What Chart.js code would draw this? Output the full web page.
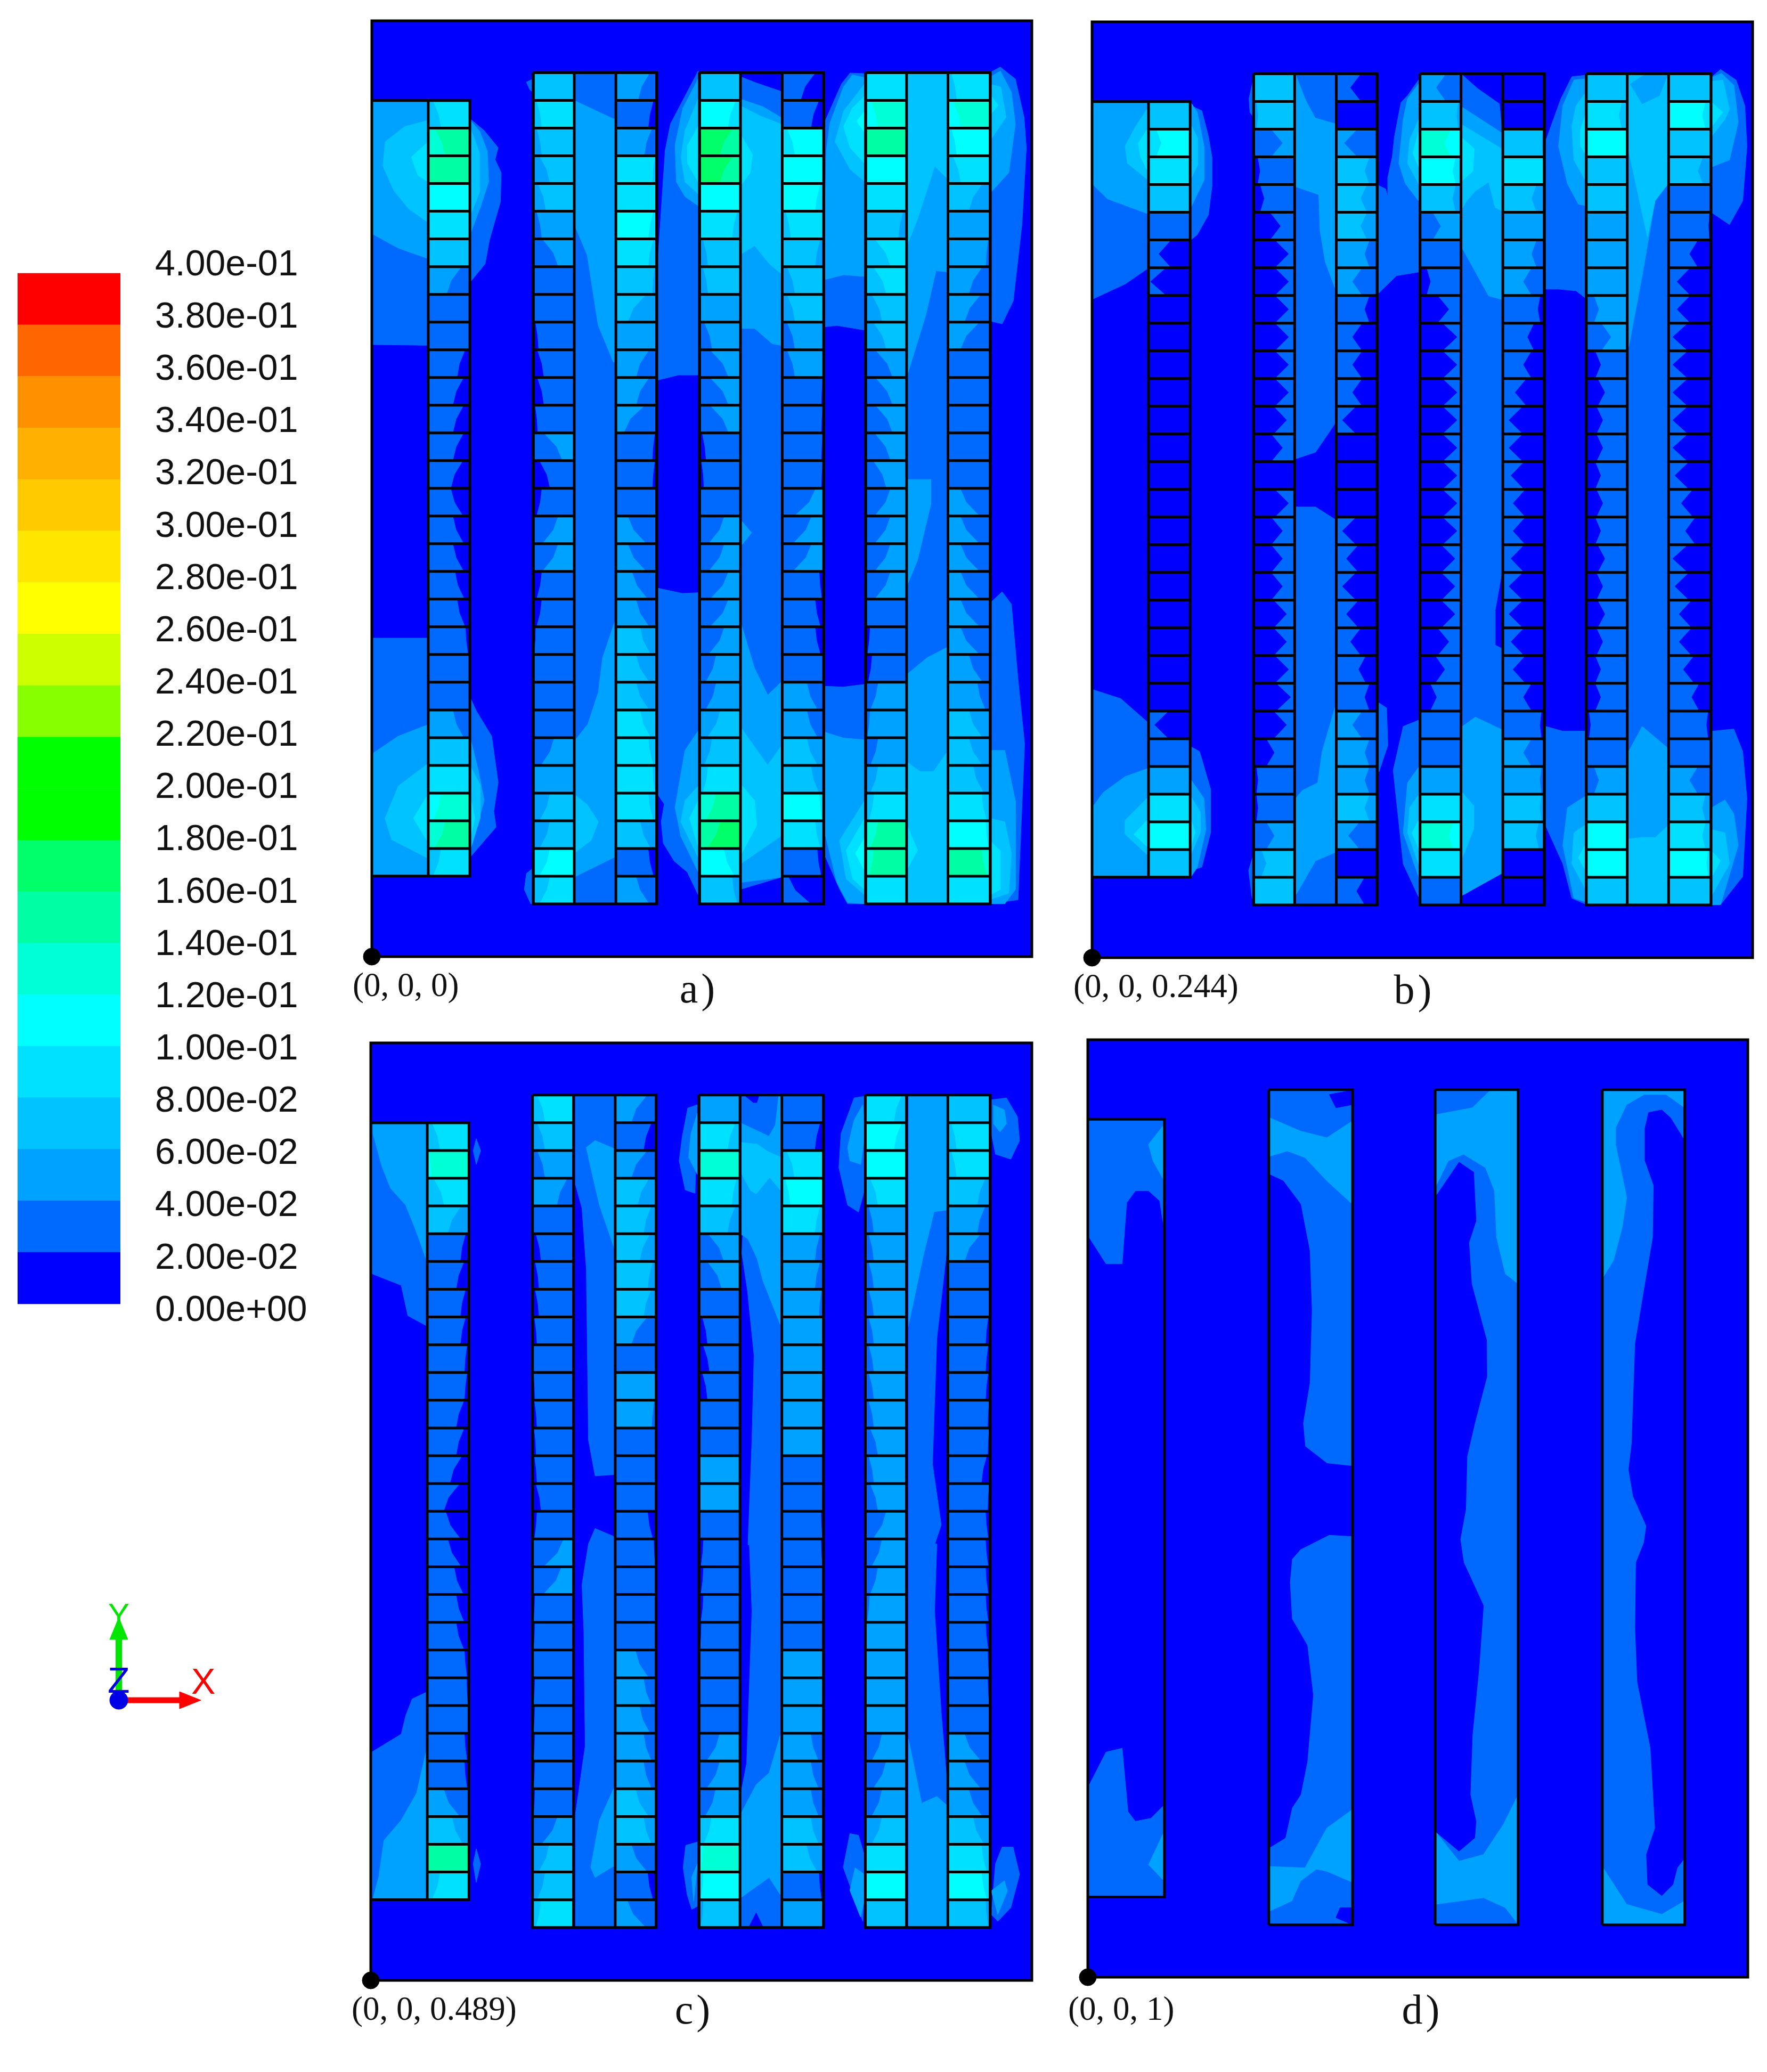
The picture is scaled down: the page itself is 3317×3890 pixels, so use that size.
<!DOCTYPE html>
<html>
<head>
<meta charset="utf-8">
<title>Contours</title>
<script src="https://cdn.jsdelivr.net/npm/chart.js@4/dist/chart.umd.js"></script>
<style>
html, body { margin: 0; background: #fff; }
#page { position: relative; width: 3317px; height: 3890px; overflow: hidden; }
canvas { position: absolute; }
.cap { position: absolute; font-family: "Liberation Serif", serif; color: #111; line-height: 1; white-space: nowrap; transform: translateY(-50%); }
.tag { font-size: 78px; transform: translate(-50%, -50%); letter-spacing: 6px; }
.tri { position: absolute; font-family: "Liberation Sans", sans-serif; line-height: 1; }
</style>
</head>
<body>
<div id="page"></div>
<script>
// contour bands, bottom to top of the colour bar
const bandColors = ['#0000ff', '#006aff', '#00a2ff', '#00c3ff', '#00e1ff', '#00ffff', '#00ffd5', '#00ffa5', '#00ff68', '#00ff00',
    '#00ff00', '#88ff00', '#ccff00', '#ffff00', '#ffe600', '#ffcb00', '#ffb000', '#ff9100', '#ff6600', '#ff0000'];
const bandStep = 0.02;

// geometry of a slice, in plot units
const cellColumns = [[42.7, 74.2], [122.2, 153.2], [184.7, 215.6], [248, 279], [310.6, 342], [373.7, 404.7], [436, 468]];
const channelEdges = [[122.2, 215.6], [248, 342], [373.7, 468]];
const rowTop = 668.7, rowHeight = 20.96, rowCount = 30;
const inletTop = 647.7, inletBottom = 60.9;

// slice a): band of each cell, top row first, and the darker wedge (share of width, minus = left side)
const aInlet = [4,7,7,5,4,3,2,1,1,1,1,1,1,1,1,1,1,1,1,1,1,1,2,3,4,6,7,4];
const aInletW = [-.3,-.4,0,0,0,0,.55,0,0,.3,.4,.4,.4,.45,.45,.4,.4,.35,.3,.1,0,0,.4,0,0,-.3,-.4,-.3];
const aC1L = [3,4,3,3,3,2,2,1,1,1,1,1,1,2,1,1,2,2,1,1,1,1,1,1,2,2,3,3,5,4];
const aC1LW = [0,-.2,-.2,-.4,-.3,-.2,-.6,0,0,-.12,-.25,-.25,-.1,-.7,-.4,-.2,-.6,-.6,-.2,-.2,-.05,0,0,0,-.5,0,-.4,-.4,-.4,-.4];
const aC1R = [2,1,2,4,4,5,4,3,3,2,2,2,2,1,1,1,2,2,2,2,3,3,3,4,4,4,4,3,1,2];
const aC1RW = [.45,.2,.3,.1,0,.2,.2,.1,.7,0,.5,.5,.8,.1,.1,0,.7,.7,.6,.5,.4,.5,.5,.4,.2,.1,.2,.4,.2,.5];
const aC2L = [3,5,8,8,5,4,3,3,2,2,2,2,2,1,1,1,2,2,2,2,2,2,2,3,3,4,7,8,5,3];
const aC2LW = [0,.3,.5,.5,0,.2,-.2,-.2,0,-.3,-.7,-.7,-.7,-.15,-.1,0,-.6,-.6,-.7,-.7,-.6,-.4,-.4,-.5,-.3,-.2,-.4,-.5,.4,.2];
const aC2R = [1,1,5,5,5,4,3,3,3,2,2,1,1,1,1,2,2,2,1,1,1,1,2,2,3,3,5,4,1,1];
const aC2RW = [.55,.3,-.3,0,.2,-.2,.2,-.3,-.3,-.3,-.3,.05,.05,.05,.05,-.8,-.7,-.7,.1,.2,.2,0,.4,.4,.4,.3,.1,.2,.15,.85];
const aC3L = [4,6,7,5,4,3,4,4,3,3,2,2,2,2,2,2,2,2,2,1,1,1,2,2,2,3,4,7,7,4];
const aC3LW = [0,-.3,0,0,0,.2,-.6,-.5,-.4,-.5,-.65,-.65,-.65,-.6,-.5,-.6,-.6,-.6,-.6,0,-.1,-.15,-.3,-.1,-.3,-.3,-.2,-.3,-.2,0];
const aC3R = [4,6,5,4,3,2,2,2,2,2,1,1,1,1,1,2,2,2,2,2,2,2,2,3,3,3,4,5,7,4];
const aC3RW = [-.2,-.3,-.2,-.3,.5,0,.1,.5,.6,.7,0,0,0,0,0,.7,.7,.7,.7,.7,.7,.5,.3,.5,.5,.4,.2,.1,.2,0];

// slice b)
const bInlet = [3,5,4,3,1,1,1,0,0,0,0,0,0,0,0,0,0,0,0,0,0,0,1,1,2,4,5,3];
const bInletW = [0,-.3,0,0,0,.75,.95,0,0,0,0,0,0,0,0,0,0,0,0,0,0,0,.85,0,0,0,0,0];
const bC1L = [3,3,2,1,1,1,1,1,1,1,1,1,1,1,0,1,1,1,1,1,1,1,1,1,1,1,1,2,3,3];
const bC1LW = [0,-.1,-.7,-.15,-.25,-.65,-.85,-.85,-.85,-.85,-.85,-.85,-.8,-.7,0,-.85,-.7,-.7,-.7,-.8,-.8,-.85,-.9,-.8,-.5,-.1,-.1,-.5,-.3,0];
const bC1R = [1,0,2,3,3,3,2,2,1,1,1,1,1,0,0,0,1,1,1,1,1,1,1,2,2,2,3,2,0,1];
const bC1RW = [.65,0,.8,.3,.4,.4,.3,.6,.3,.6,.6,.6,.85,0,0,0,.85,.75,.85,.75,.65,.45,.3,.6,.3,.3,.3,.7,0,.5];
const bC2L = [2,3,6,5,3,2,1,1,1,1,1,1,1,1,1,1,1,1,1,1,1,1,1,1,1,2,4,6,4,1];
const bC2LW = [.6,.1,.4,.2,.2,-.5,0,-.25,-.7,-.9,-.9,-.9,-.9,-.9,-.9,-.9,-.9,-.85,-.85,-.85,-.7,-.6,-.4,0,0,0,0,.3,0,0];
const bC2R = [0,0,3,4,3,2,2,2,1,1,1,1,1,1,1,1,1,1,1,1,1,1,1,1,2,2,3,3,0,0];
const bC2RW = [0,0,.05,0,.3,0,.3,.5,.15,.4,.5,.7,.85,.85,.8,.75,.75,.8,.85,.85,.8,.75,.5,.1,.5,.1,.1,.2,0,0];
const bC3L = [3,4,5,3,3,2,2,2,2,2,1,1,1,1,1,1,1,1,1,1,1,1,1,1,1,2,3,5,5,3];
const bC3LW = [0,.2,0,0,0,0,0,0,-.3,-.6,-.35,-.45,-.4,-.4,-.35,-.4,-.35,-.45,-.4,-.45,-.4,-.35,-.35,-.1,0,-.3,0,0,0,0];
const bC3R = [3,5,3,3,1,1,1,1,1,1,1,1,1,1,1,1,1,1,1,1,1,1,1,1,1,2,3,4,5,3];
const bC3RW = [0,.2,0,.3,0,.05,.5,.8,.8,.9,.9,.9,.9,.9,.85,.7,.6,.9,.85,.75,.75,.65,.45,.1,0,.5,.2,.2,.1,0];

// slice c)
const cInlet = [4,6,4,3,1,1,1,1,1,1,1,1,1,1,1,1,1,1,1,1,1,1,1,1,2,3,7,4];
const cInletW = [-.3,-.1,-.4,.5,.2,.3,.2,.2,.1,.1,.3,.3,.45,.6,.55,.5,.35,.3,.3,.1,.05,0,.1,.1,.6,.4,0,-.3];
const cC1L = [4,3,2,2,1,1,1,1,1,1,1,1,1,1,1,1,2,2,1,1,1,1,1,1,1,1,2,3,3,4];
const cC1LW = [-.3,-.3,-.3,.4,0,-.2,-.15,-.15,-.1,0,-.05,-.1,-.08,-.1,-.2,-.1,-.75,-.7,-.05,-.05,0,-.05,-.05,-.05,-.05,-.05,-.6,-.4,-.3,-.2];
const cC1R = [2,1,2,3,3,3,3,3,2,1,2,2,1,1,1,1,1,1,1,1,2,2,2,2,2,3,3,2,1,2];
const cC1RW = [.6,.3,.6,.45,.3,.4,.2,.3,.6,0,0,.1,0,0,0,.2,.05,0,0,0,.5,.3,.4,.3,.3,.5,.3,.6,.2,.7];
const cC2L = [2,4,6,4,3,2,2,1,1,1,1,1,1,2,2,1,1,1,1,1,1,1,1,2,2,2,4,6,5,3];
const cC2LW = [0,.3,0,.2,.3,-.6,-.55,0,-.2,-.25,-.2,0,0,0,0,0,-.1,-.1,-.1,-.05,0,0,0,-.5,-.5,-.4,-.3,-.1,-.1,-.1];
const cC2R = [1,1,4,5,4,2,2,2,2,2,2,2,2,1,1,1,1,1,1,1,2,2,2,2,2,2,3,3,1,2];
const cC2RW = [0,.2,-.3,-.2,.2,.2,.2,.1,0,0,0,0,0,0,0,.05,.05,0,0,0,0,0,0,.3,.3,.3,.3,.4,.1,0];
const cC3L = [4,5,5,4,2,2,2,2,2,2,2,2,2,2,2,2,2,2,2,2,2,2,2,2,2,2,3,4,5,3];
const cC3LW = [.3,.3,0,-.3,-.2,-.2,-.2,-.2,-.2,-.2,-.2,-.2,-.3,-.2,-.3,-.5,-.4,-.3,-.1,0,0,0,0,-.4,-.5,-.4,-.4,0,0,0];
const cC3R = [3,4,4,3,2,2,1,1,1,1,1,1,1,1,1,1,1,1,1,1,1,1,1,2,2,2,3,4,5,3];
const cC3RW = [0,-.2,-.2,.3,.3,.6,0,0,.1,.1,.1,.05,.05,.2,.05,.1,.1,.1,.1,.1,.05,.05,0,.6,.6,.5,.4,.2,.2,.1];

// contour patches in the open fluid: [band, [x, y, x, y, ...]], painted in this order
const aFluid = [
    [1,[0,647.7,74.2,647.7,74.2,634,85,625,95.6,612,93.3,603,97.9,593,97.3,571,89,542,85.7,524,74.2,510,42.7,510,42.7,462.5,0,463]],
    [2,[0,647.7,74.2,647.7,74.2,633,81.5,624.6,87.4,609.5,88.4,586.4,82.5,567.9,74.2,545.9,41.3,528.5,20,536,0,547]],
    [3,[42.7,632.7,24.9,628,10.1,616.5,8.4,598,16.7,579.4,28.2,565.5,41.3,556.3,74.2,560,81.5,578,81.5,608,74.2,628]],
    [4,[42.7,616.5,30,605,34.8,591,42.7,586,74.2,586,74.2,616]],
    [1,[0,241,42.7,241,42.7,197,74.2,196.5,79.2,185.7,90.7,166.8,95.6,131.7,92.3,110,94,98,74.2,75,74.2,60.9,0,60.9]],
    [2,[0,153.3,20,166.8,41.3,175,74.2,166.8,80.8,140,85,118.2,74.2,79,74.2,60.9,0,60.9]],
    [3,[41.3,145.2,20,129,10,104.7,15,88.5,41.3,75,74.2,80,82,105,82,130,74.2,145]],
    [4,[41.3,120.9,31.5,104.7,41.3,88.5,74.2,88,78,105,74.2,122]],
    [1,[122,664,117,661.6,119.6,655.8,122,654]],
    [1,[122,67,117,62.9,115.4,50.7,120.3,40,122,40]],
    [1,[153.2,668.7,184.7,668.7,184.7,39.9,153.2,39.9]],
    [2,[153.2,647.7,182.8,633.8,184.7,634,184.7,449.8,182.8,449.8,171.3,477.6,163,530.8,153.2,554]],
    [2,[184.7,256,174.6,226,171.4,200,163.4,175.7,153.2,163,153.2,60.2,184.7,75.8]],
    [3,[153.2,122.7,163,115,171.4,102,166,88,153.2,78.3]],
    [1,[247,670,237,651,226,630,222,610,215.7,515,215.7,436,232,440,247,440]],
    [2,[247,664,235.4,642,229.5,614,230.5,586,237,575,247,568]],
    [3,[247,649,237,625,234,605,237,586,247,577]],
    [4,[247,628,239,614,239,600,247,586]],
    [1,[247,275.3,235,274.8,215.7,278.9,215.7,123.6,221.3,115.5,219,102,220.6,85.8,228.8,72.3,238.7,64,247,46.7]],
    [2,[247,170.9,237,156,229.5,112.8,233.8,91.2,247,64]],
    [3,[247,129,237,118.2,233.8,102,247,75]],
    [4,[247,118.2,240.4,104.7,247,83]],
    [1,[278.2,666,291,661,309.4,654.7,309.4,60,278.2,50.7]],
    [2,[278.2,649,296,643,309.4,635,309.4,462.5,303,463.7,289.7,475.3,278.2,475.3]],
    [3,[278.2,644,294,636,309.4,630,309.4,517,301,523.9,289.7,537.8,278.2,530.8]],
    [4,[278.2,623.4,288,607,286.4,593.3,278.2,581.7]],
    [2,[278.2,331.5,287.4,320.7,279.8,311.2]],
    [2,[278.2,255.9,289.7,218,299.6,197.9,309.4,207.3,309.4,60,278.2,56]],
    [3,[278.2,175,289.7,158.7,299.6,145,309.4,158.7,309.4,91,278.2,69.6]],
    [4,[278.2,131.7,289.7,118,291.3,99.3,278.2,75]],
    [1,[373,668,362,668.5,355.5,660.4,343.3,632.7,342,476.4,352,477.5,373,474]],
    [2,[373,665,363.7,667,357,658,346.6,630.4,344,610,342,512,357,515.8,373,514.6]],
    [3,[373,660.4,357,639.6,350.6,616.5,362,595.6,373,586.4]],
    [4,[373,651,363.7,642,357,628,362,611.8,373,600]],
    [5,[373,639.6,367,632,373,623.4]],
    [1,[404,668.7,435.4,668.7,435.4,39.9,404,39.9]],
    [2,[404,668.7,435.4,668.7,435.4,518,427,519,419,484.5,404,436]],
    [3,[404,668.7,435.4,668.7,435.4,588.7,426,598,413,558,404,535.5]],
    [2,[404,361,423,361,423,342,413,300,404,278]],
    [2,[404,212.7,420,226,435.4,234,435.4,39.9,404,39.9]],
    [3,[404,148,415,140,425,140,435.4,154.7,435.4,39.9,404,39.9]],
    [4,[404,102,413,80.4,404,64]],
    [1,[342,204.6,357,204,373,206,373,40,360,40,354,51,342.3,77.7]],
    [2,[342,170,357,165.4,373,164,373,40,360,41,352,56,342,97]],
    [3,[373,118,354,88,359,58.8,373,46.6]],
    [4,[373,104.7,359,80.4,364,58.8,373,50.7]],
    [5,[373,90,366,78,373,65]],
    [1,[467.3,668.5,475.6,673,487,664,493.6,635,495.3,612,492,554,485.4,496,477,478.7,467.3,481]],
    [2,[467.3,665,475.6,670,484,654,487,630,482,593,467.3,577]],
    [3,[467.3,660,476,658,480,635,467.3,616.5]],
    [4,[467.3,653,474,644,467.3,636]],
    [1,[467.3,267,477,276,484,266.7,489,210,494,161,489,43,467.3,40]],
    [2,[467.3,156,479,156,487,118,487,50.7,479,40,467.3,40]],
    [3,[467.3,104.7,479,102,484,78,482,48,467.3,43]],
    [4,[467.3,88.5,475.6,80,475.6,50.7,467.3,46.5]]
];

const bFluid = [
    [1,[0,647,74.7,647,74.7,644.6,83,640.8,88,621.5,90.6,606,90.6,583,88,562,79.6,547,74.7,543,74.7,521,41.6,521,25,509.6,0,498]],
    [2,[0,647,74.7,647,79.6,639.5,84.6,614,84.6,588,74.7,567.5,41.6,563,11.8,574,0,585.5]],
    [3,[41.6,642,33,629,25,614,26.7,601,41.6,589,74.7,589,80,600,80,620,74.7,630]],
    [4,[41.6,626.6,35,616.3,36.6,606,41.6,595.8,74.7,596,74.7,626]],
    [1,[0,203,21.7,196,41.6,178.5,74.7,159.6,81.3,156,89.6,127.7,89.6,94.5,83,68.5,74.7,66,74.7,61,0,61]],
    [2,[0,113.5,8.5,125,25,137,41.6,143,74.7,134.7,84.6,120.6,86,96.9,79.6,68.5,74.7,61,0,61]],
    [3,[41.6,120.6,25,104,25,93.3,41.6,78,74.7,78,82,95,82,110,74.7,122]],
    [4,[41.6,104,31.6,93.3,41.6,84,74.7,84,78,95,74.7,105]],
    [1,[122,665,118.7,650,119.4,639.5,122,636]],
    [1,[122,78,118.4,66,121,45,122,45]],
    [2,[154,669,184.7,669,184.7,503,176,526,172,550,171,577,154,582.8]],
    [1,[154,669,184.7,669,184.7,631,169,635.6,162,648.5]],
    [1,[154,582.8,171,577,172,550,176,526,184.7,503,184.7,405.5,169,382.4,154,377.4]],
    [1,[154,341,169,341,184.7,331,184.7,39.9,154,39.9]],
    [2,[184.7,192.7,174,156,170.7,132.4,159,126.5,154,120.6,154,47.2,169,73.3,184.7,80]],
    [1,[246.9,664,238.6,652.3,233.6,647,228.7,621.5,227,606,223.7,590.6,223.7,575,222,581.6,217,584,217,503,230.3,516,246.9,518.7]],
    [2,[246.9,661,238.6,650,235.3,634.3,232,600.9,237,585.5,246.9,572.6]],
    [3,[246.9,634,240.2,619,238.6,600.9,246.9,585.5]],
    [4,[246.9,625,242.6,608.6,246.9,598.3]],
    [1,[246.9,179.7,235.3,175,227.7,141.8,235.3,70.9,246.9,46]],
    [2,[246.9,144,238.6,132.4,235.3,94.5,246.9,61.4]],
    [3,[246.9,123,240.2,113.5,238.6,94.5,246.9,70.9]],
    [4,[246.9,104,241.9,94.5,246.9,82.7]],
    [1,[217,192.7,222.7,189,223.7,160.8,217,140.7]],
    [1,[280,667.8,291.6,657.5,308,646,309.8,626.6,309.8,290.8,304.8,262.5,304.8,236.5,309.8,234,309.8,63.8,280,47.2]],
    [2,[280,643.3,309.8,624,309.8,498,299.9,500.7,289.9,518.7,280,536.6]],
    [3,[280,630,309.8,612,309.8,565,304.8,567.5,299.9,586.8,289.9,580,283.3,572.6,280,567]],
    [4,[280,620,289,612,288,595,280,588]],
    [2,[280,175,289.9,182,309.8,172.6,309.8,63.8,280,47.2]],
    [3,[280,125,288.5,115,288.5,97,280,75.6]],
    [1,[374.4,667.8,362.8,666.5,354.5,649.8,342.9,617.6,342.9,505.8,352.8,505.8,366,504.5,374.4,498]],
    [2,[374.4,665,364.4,664,356,644.6,352.8,613.8,359.5,585.5,367.8,570,374.4,568.8]],
    [3,[374.4,656,366,644.6,362.8,629,364.4,603.5,374.4,585.5]],
    [4,[374.4,642,369.4,626.6,369.4,613.8,374.4,606]],
    [1,[342.9,175,356,171.4,374.4,171.4,374.4,40,362.8,45,356,71,342.9,100]],
    [2,[374.4,123,359.5,113.5,356,85,364.4,45,374.4,42]],
    [3,[374.4,101.7,364.4,94.5,362.8,71,374.4,49.6]],
    [4,[374.4,88,367.7,75.6,374.4,64]],
    [1,[405.8,668.7,435.6,668.7,435.6,39.9,405.8,39.9]],
    [2,[405.8,668.7,435.6,668.7,435.6,585.5,425.7,572.6,416,516,405.8,462]],
    [3,[405.8,668.7,435.6,668.7,435.6,585.5,425.7,572.6,420,545,405.8,610]],
    [2,[419,668.7,435.6,668.7,429,652.3,416,646,407,661]],
    [2,[405.8,156,416,175,435.6,158.4,435.6,39.9,405.8,39.9]],
    [3,[405.8,89.8,416,91,426,91,435.6,100,435.6,39.9,405.8,39.9]],
    [1,[468.7,666.5,475.3,672,487,664,493.6,644.6,495.2,613.8,492,572.6,482,554.6,468.7,563.6]],
    [2,[468.7,666,476,669,485.3,660,488.6,632,482,603.5,468.7,598.3]],
    [3,[468.7,663,477,664,482,642,478.6,634.3,468.7,621.5]],
    [4,[468.7,647,477,639.5,468.7,629]],
    [1,[468.7,171.4,485.3,173,492,156,495.2,120.6,492,61.4,475.3,40.2,468.7,40]],
    [2,[468.7,113.5,478.6,119.4,485.3,108.7,488.6,85,475.3,40.2,468.7,40]],
    [3,[468.7,96.9,478.6,94.5,482,70.9,468.7,47.2]],
    [4,[468.7,80.4,475.3,73.3,468.7,61.4]]
];

const cFluid = [
    [1,[0,648,42.8,648,42.8,494,28,502,23,525,0,534]],
    [2,[1.7,648,42.8,648,42.8,542,34.6,565,26.4,585.5,14.9,598.3,8.3,615,1.7,639.5]],
    [1,[0,172,23,186,26.4,200,31.3,212.6,42.2,217.7,42.8,62,0,62]],
    [2,[42.8,177,34.6,141.4,23,121,10,105.8,6,78,1.7,62,42.8,62]],
    [1,[79.7,635.6,83,626.6,79.7,616.3,77.4,626.6]],
    [1,[79.7,99.4,83,88,79.7,74,77.4,88]],
    [1,[154.7,600.9,159.6,583,162.9,536.6,164.5,408,169.5,381,184.3,382,184.3,668.7,154.7,668.7]],
    [2,[162.9,629,169.5,634.3,184.3,628,184.3,552,172.8,585.5,166.2,613.8]],
    [1,[169.5,341.3,184.3,335,184.3,39.9,154.7,39.9,154.7,126,162,177,161,263.5,159.6,299,164.5,329.7]],
    [2,[184.3,146.5,172.8,121,166.2,85.4,169.5,77.8,184.3,86.7]],
    [1,[246.8,661.3,239.5,658.8,235.3,637,233,619,237.6,597,245,594.5]],
    [2,[246.8,655,241.9,639.5,240.2,621.5,246.8,608.6]],
    [1,[246.8,104.5,238,102,236,85.4,239,65,242.5,53.6,246.8,56]],
    [2,[246.8,88,242.5,77.8,244,60]],
    [1,[281,562,309.3,562,309.3,329,285,329,288,408,289.6,472,284.6,521,280.4,549]],
    [2,[280.4,669.6,309.3,669.6,309.3,495.5,296.1,529,292,545,285,560,280.4,563]],
    [1,[280.4,669.6,308,669.6,305.3,646,300.7,638,280.4,647.5]],
    [0,[281,669.6,289,663,291.7,663,293.7,669.6]],
    [3,[280.4,632.8,292,631.5,299.9,626,309.3,622,309.3,597,301.4,606.4,291.2,594,287,596.5,280.4,608.6]],
    [1,[286,331,309.3,331,309.3,40.9,279.7,40.9,279.7,141.4,284,164,288,278.8]],
    [2,[279.7,126,291.2,147.8,301,156.7,309.3,184.7,309.3,65,301,77.8,279.7,62.5]],
    [0,[291.2,51,296,40.9,286,40.9]],
    [2,[406.3,668.7,435,668.7,435,581.6,426,580.3,417.8,547,406.3,493]],
    [1,[406.3,493,417.8,547,426,580.3,435,581,435,549.5,427.7,485,424.4,390,431,344,426,329,406.3,329]],
    [1,[406.3,329.7,427.7,329.7,426,278.8,431,202.5,435,154,435,39.9,406.3,39.9]],
    [2,[406.3,182.1,416.2,133.8,427.7,138.9,435,132.5,435,39.9,406.3,39.9]],
    [1,[373.4,667.8,365.2,666.5,355.3,639.5,353.7,613.8,360.3,585.5,368.5,580.3,373.4,598.3]],
    [2,[371.8,661.3,365.2,649.8,360.3,629,362,619,370.2,616.3,373.4,640]],
    [1,[362,110.9,368.5,109.6,373.4,93,371.8,44.7,357,85.4]],
    [2,[366,85,362,68,370,48,373,60,373,80]],
    [1,[468.8,665,480.3,666.5,488.6,652.3,490.2,634.3,483.6,620.2,472,624,468.8,640]],
    [2,[470.5,661,478.7,657.5,480.3,647,475.4,640.8,470.5,647]],
    [1,[477,100.7,485.3,100.7,490.2,80,483.6,54.9,473.8,44.7,468.8,49.8,472,88]],
    [2,[468.8,67.6,478.7,75.2,481,67.6,473.8,49.8]]
];

// slice d): channels painted band 1 first, then the patches
const dBlocks = [[0, 58, 60.5, 648], [137, 200.4, 39.5, 670.3], [262.9, 325.7, 39.5, 670.3], [389.4, 451.8, 39.5, 670.3]];
const dFluid = [
    [1,[1,647.5,57.8,647.5,57.8,564.8,54.4,586.4,46,593.9,36,593.9,29.4,584.9,26,538.8,13.8,538.8,1,558.8]],
    [2,[57.8,644,46,629,49.4,616.5,57.8,601.4]],
    [1,[1,145,13.8,170,26,172.9,30.4,125,36,117.7,47.8,120,57.8,130,57.8,61,1,61]],
    [2,[57.8,110,46,85,57.8,72.6]],
    [1,[137,670,200.4,670,200.4,40,137,40]],
    [0,[182.8,666.6,200.4,670,200.4,659,187.8,656.6]],
    [2,[137.8,649,161,639,181,634,200,646.5,200,584,181,601.4,164.4,619,151,624,137.8,620]],
    [0,[137,606.4,147.8,601.4,161,583.9,167.8,548.8,169.4,503.7,167.8,448.5,162.8,418.5,164.4,400.9,181,388,200.4,385.9,200.4,333.2,182.8,334.2,161,323.2,154.4,315.7,152.8,298.2,154.4,270.6,166,250.6,170.4,213,166,162.8,161,137.8,154.4,127.8,149.4,105.2,137,97.6]],
    [2,[137.8,83.6,164.4,82.6,181,112.7,200.4,126.7,200.4,71.6,181,80,173,81.6,161,72.6,154.4,57.6,137.8,50]],
    [0,[187.8,45,191,52.5,200.4,52.5,200.4,39.5]],
    [1,[262.9,670,325.7,670,325.7,40,262.9,40]],
    [2,[263.8,651.5,291,656.6,303.8,669,325.7,670,325.7,523.7,316,531.2,309.4,558.8,307.8,593.9,301,611.4,284.4,621.5,272.8,616.5,262.9,596.4]],
    [0,[262.9,588.9,281,615.5,292,608,293.8,571.3,288.4,554.8,290.4,523.7,301.8,481,302,453.6,292.8,418.5,287,393.4,286,353.3,281.8,330.7,284.4,313.2,299.4,280.6,296,233,291,182.9,289.4,137.8,293.8,117.7,292.8,105.2,281,95.2,262.9,110.2]],
    [2,[262.9,110.2,281,87.6,299.4,92.6,314.4,115.2,325.7,137.8,325.7,40,316,52.5,299.4,60,262.9,55]],
    [1,[389.4,670,451.8,670,451.8,40,389.4,40]],
    [2,[390,669,451.8,669,451.8,656.6,437.8,666.6,421,666.6,407.8,659,399.4,641.5,399.4,629,407.8,588.9,404.4,566.3,397.8,541.3,390,528.7]],
    [0,[451.8,631.5,441,649,434.4,655,424.4,653,421.8,641.5,421.8,616.5,428.4,598,427.8,558.8,421,518.7,414.4,478.6,412.8,433.5,411.8,403.4,409.4,383.4,412.8,363.3,422.8,340.8,421,328.2,415,313.2,414.4,263,416,223,426,172.9,429.4,112.7,422.8,92.6,423.8,70,434.4,61.6,442.8,70,446,82.6,451.8,90.2]],
    [2,[390,82.6,407.8,55,434.4,47.5,451.8,57.6,451.8,40,390,40]]
];

// colour bar scale: the bar sits slightly inside the label column
const barAxisMin = -0.0027, barAxisMax = 0.4031;

function pts(flat) {
    let out = [];
    for (let i = 0; i < flat.length; i += 2) out.push({ x: flat[i], y: flat[i + 1] });
    return out;
}

function patch(band, flat) {
    flat = flat.concat([flat[0], flat[1]]);
    return { data: pts(flat), showLine: true, fill: 'shape', backgroundColor: bandColors[band], borderColor: bandColors[band], borderWidth: 1, pointRadius: 0 };
}

function stroke(flat, width, color) {
    return { data: pts(flat), showLine: true, fill: false, borderColor: color || '#000', borderWidth: width || 5, pointRadius: 0, clip: false };
}

// one column of cells: a flat band plus a wedge of the next band down.
// slice b has hexagon-like wedges, a and c have slanted ones
function cellPatches(col, bands, wedges, firstRow, slanted) {
    let out = [];
    const x0 = cellColumns[col][0], x1 = cellColumns[col][1], w = x1 - x0;
    bands.forEach((b, i) => {
        const row = i + firstRow;
        const top = rowTop - row * rowHeight, bot = top - rowHeight, mid = (top + bot) / 2;
        out.push(patch(b, [x0, top, x1, top, x1, bot, x0, bot]));
        const d = wedges[i];
        if (d !== 0 && b > 0) {
            const edge = d < 0 ? x0 : x1, dir = d < 0 ? 1 : -1, a = Math.abs(d) * w;
            let wt = 0.6, wm = 1, wb = 0.6;
            if (slanted) {
                wt = row < 15 ? 0.35 : 1;
                wm = 0.8;
                wb = row < 15 ? 1 : 0.35;
            }
            out.push(patch(b - 1, [edge, top, edge + dir * a * wt, top, edge + dir * a * wm, mid, edge + dir * a * wb, bot, edge, bot]));
        }
    });
    return out;
}

function gridLines() {
    let out = [];
    channelEdges.forEach(e => {
        out.push(stroke([e[0], rowTop, e[1], rowTop, e[1], rowTop - rowCount * rowHeight, e[0], rowTop - rowCount * rowHeight, e[0], rowTop]));
    });
    out.push(stroke([0, inletTop, 74.2, inletTop, 74.2, inletBottom, 0, inletBottom]));
    out.push(stroke([42.7, inletTop, 42.7, inletBottom]));
    cellColumns.slice(1).forEach(c => {
        out.push(stroke([c[0], rowTop, c[0], rowTop - rowCount * rowHeight]));
        out.push(stroke([c[1], rowTop, c[1], rowTop - rowCount * rowHeight]));
    });
    cellColumns.forEach((c, k) => {
        for (let r = 1; r < rowCount; r++) {
            const y = rowTop - r * rowHeight;
            if (k === 0 && (r < 2 || r > 28)) continue;
            out.push(stroke([c[0], y, c[1], y]));
        }
    });
    return out;
}

function drawSlice(id, left, top, width, height, sets) {
    const pad = 24;
    const canvas = document.createElement('canvas');
    canvas.id = id;
    canvas.width = width + pad * 2;
    canvas.height = height + pad * 2;
    canvas.style.left = (left - pad) + 'px';
    canvas.style.top = (top - pad) + 'px';
    document.getElementById('page').appendChild(canvas);
    const frame = [0, 0, 499.5, 0, 499.5, 708, 0, 708, 0, 0];
    const origin = { data: [{ x: 0, y: 0 }], showLine: false, pointRadius: 16, backgroundColor: '#000', borderColor: '#000', clip: false };
    const all = [patch(0, [0, 0, 499.5, 0, 499.5, 708, 0, 708])].concat(sets, [stroke(frame, 5), origin]);
    all.forEach((d, i) => { d.order = all.length - i; });
    new Chart(canvas, {
        type: 'scatter',
        data: { datasets: all },
        options: {
            responsive: false,
            animation: false,
            events: [],
            layout: { padding: pad, autoPadding: false },
            plugins: { legend: { display: false }, tooltip: { enabled: false } },
            scales: {
                x: { type: 'linear', display: false, min: 0, max: 499.5 },
                y: { type: 'linear', display: false, min: 0, max: 708 }
            }
        }
    });
}

function sliceSets(fluid, cols, slanted) {
    let sets = fluid.map(f => patch(f[0], f[1]));
    cols.forEach((c, k) => { sets = sets.concat(cellPatches(k, c[0], c[1], k === 0 ? 1 : 0, slanted)); });
    return sets.concat(gridLines());
}

drawSlice('sliceA', 698, 39, 1239, 1757, sliceSets(aFluid, [[aInlet, aInletW], [aC1L, aC1LW], [aC1R, aC1RW], [aC2L, aC2LW], [aC2R, aC2RW], [aC3L, aC3LW], [aC3R, aC3RW]], true));
drawSlice('sliceB', 2050, 41, 1240, 1757, sliceSets(bFluid, [[bInlet, bInletW], [bC1L, bC1LW], [bC1R, bC1RW], [bC2L, bC2LW], [bC2R, bC2RW], [bC3L, bC3LW], [bC3R, bC3RW]], false));
drawSlice('sliceC', 696, 1958, 1241, 1760, sliceSets(cFluid, [[cInlet, cInletW], [cC1L, cC1LW], [cC1R, cC1RW], [cC2L, cC2LW], [cC2R, cC2RW], [cC3L, cC3LW], [cC3R, cC3RW]], true));

// slice d has no cells, only the four plain blocks
let dSets = dFluid.map(f => patch(f[0], f[1]));
dBlocks.forEach(b => { dSets.push(stroke([b[0], b[3], b[1], b[3], b[1], b[2], b[0], b[2]], 5)); });
dBlocks.slice(1).forEach(b => { dSets.push(stroke([b[0], b[2], b[0], b[3]], 5)); });
drawSlice('sliceD', 2042, 1952, 1239, 1760, dSets);

// colour bar
(function () {
    const canvas = document.createElement('canvas');
    canvas.width = 613; canvas.height = 2099;
    canvas.style.left = '33px'; canvas.style.top = '430px';
    document.getElementById('page').appendChild(canvas);
    new Chart(canvas, {
        type: 'bar',
        data: {
            labels: ['v'],
            datasets: bandColors.map(c => ({ data: [bandStep], backgroundColor: c, yAxisID: 'bars', barPercentage: 1, categoryPercentage: 1, borderWidth: 0 }))
        },
        options: {
            responsive: false,
            animation: false,
            events: [],
            layout: { padding: { top: 68, bottom: 68, left: 0, right: 0 }, autoPadding: false },
            plugins: { legend: { display: false }, tooltip: { enabled: false } },
            scales: {
                x: { stacked: true, display: false },
                bars: { stacked: true, display: false, min: barAxisMin, max: barAxisMax },
                labels: {
                    type: 'linear', position: 'right', min: 0, max: 0.4,
                    grid: { display: false }, border: { display: false },
                    // the end labels may hang over the plot area, they have room in the layout padding
                    afterFit: s => { s.width = 420; s.paddingTop = 0; s.paddingBottom = 0; },
                    ticks: {
                        stepSize: bandStep, padding: 57, color: '#111', autoSkip: false,
                        font: { family: '"Liberation Sans"', size: 68 },
                        callback: v => v.toExponential(2).replace(/e([+-])(\d)$/, 'e$10$2')
                    }
                }
            }
        }
    });
})();

// axis triad
(function () {
    const canvas = document.createElement('canvas');
    canvas.width = 240; canvas.height = 240;
    canvas.style.left = '170px'; canvas.style.top = '3010px';
    document.getElementById('page').appendChild(canvas);
    const sets = [
        { data: pts([0, 0, 0, 114]), showLine: true, borderColor: '#00e600', borderWidth: 12, pointRadius: 0, fill: false },
        { data: pts([-17, 114, 17, 114, 0, 155, -17, 114]), showLine: true, fill: 'shape', backgroundColor: '#00e600', borderColor: '#00e600', borderWidth: 1, pointRadius: 0 },
        { data: pts([0, 0, 114, 0]), showLine: true, borderColor: '#ff0000', borderWidth: 11, pointRadius: 0, fill: false },
        { data: pts([114, -16, 114, 16, 154, 0, 114, -16]), showLine: true, fill: 'shape', backgroundColor: '#ff0000', borderColor: '#ff0000', borderWidth: 1, pointRadius: 0 },
        { data: [{ x: 0, y: 0 }], showLine: false, pointRadius: 17, backgroundColor: '#0000e6', borderColor: '#0000e6' }
    ];
    sets.forEach((d, i) => { d.order = sets.length - i; d.clip = false; });
    new Chart(canvas, {
        type: 'scatter',
        data: { datasets: sets },
        options: {
            responsive: false, animation: false, events: [],
            layout: { padding: 0, autoPadding: false },
            plugins: { legend: { display: false }, tooltip: { enabled: false } },
            scales: {
                x: { type: 'linear', display: false, min: -53, max: 187 },
                y: { type: 'linear', display: false, min: -58, max: 182 }
            }
        }
    });
})();

// captions
const captions = [
    ['(0, 0, 0)', 662, 1849, 'a)', 1312, 1856],
    ['(0, 0, 0.244)', 2015, 1851, 'b)', 2655, 1858],
    ['(0, 0, 0.489)', 660, 3771, 'c)', 1303, 3773],
    ['(0, 0, 1)', 2005, 3771, 'd)', 2670, 3773]
];
function addText(cls, text, x, y, size) {
    const el = document.createElement('div');
    el.className = cls;
    el.textContent = text;
    el.style.left = x + 'px';
    el.style.top = y + 'px';
    if (size) el.style.fontSize = size + 'px';
    document.getElementById('page').appendChild(el);
    return el;
}
captions.forEach(c => {
    addText('cap', c[0], c[1], c[2], 63);
    addText('cap tag', c[3], c[4], c[5]);
});
[['Y', 203, 3002, 60, '#00e600'], ['Z', 202, 3120, 68, '#0000e6'], ['X', 359, 3122, 68, '#ff0000']].forEach(t => {
    addText('tri', t[0], t[1], t[2], t[3]).style.color = t[4];
});
</script>
</body>
</html>
